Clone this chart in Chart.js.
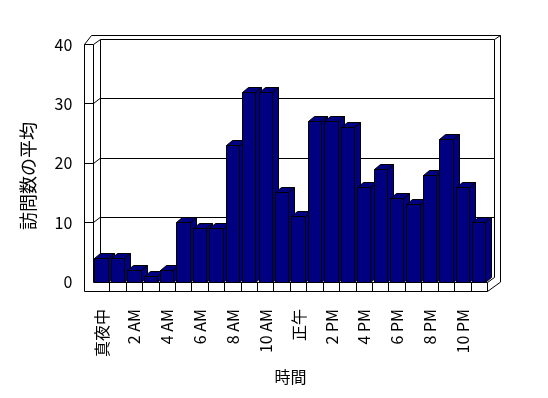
<!DOCTYPE html>
<html>
<head>
<meta charset="utf-8">
<script src="https://cdn.jsdelivr.net/npm/chart.js@4.4.1/dist/chart.umd.min.js"></script>
<style>
    html, body { margin: 0; padding: 0; background: #fff; }
    #chart { display: block; }
</style>
</head>
<body>
<canvas id="chart" width="548" height="398"></canvas>
<script>
// 時間ごとの訪問数の平均 (0時〜23時)
const hourLabels = ['真夜中', '', '2 AM', '', '4 AM', '', '6 AM', '', '8 AM', '', '10 AM', '',
    '正午', '', '2 PM', '', '4 PM', '', '6 PM', '', '8 PM', '', '10 PM', ''];
const visitAverages = [4, 4, 2, 1, 2, 10, 9, 9, 23, 32, 32, 15, 11, 27, 27, 26, 16, 19, 14, 13, 18, 24, 16, 10];
const valueTicks = [0, 10, 20, 30, 40];
const yTitle = '訪問数の平均';
const xTitle = '時間';

const FONT = '"Noto Sans CJK JP", "DejaVu Sans", sans-serif';
const BAR_COLOR = '#000080';

// walls / floor of the 3D box
const DX = 6.5, DY = -4.7;
const WALL = 9.3, FLOOR = 9;
// depth of each bar
const BX = 6, BY = -5;

const snap = v => Math.round(v - 0.5) + 0.5;

function line(ctx, pts) {
    ctx.beginPath();
    ctx.moveTo(pts[0][0], pts[0][1]);
    for (let i = 1; i < pts.length; i++) ctx.lineTo(pts[i][0], pts[i][1]);
    ctx.stroke();
}

function poly(ctx, pts) {
    ctx.beginPath();
    ctx.moveTo(pts[0][0], pts[0][1]);
    for (let i = 1; i < pts.length; i++) ctx.lineTo(pts[i][0], pts[i][1]);
    ctx.closePath();
    ctx.fill();
    ctx.stroke();
}

const boxPlugin = {
    id: 'box3d',
    beforeDatasetsDraw(chart) {
        const { ctx, chartArea: a, scales: { x, y } } = chart;
        const L = snap(a.left), R = snap(a.right);
        const T = snap(y.getPixelForValue(valueTicks[valueTicks.length - 1]));
        const B = snap(y.getPixelForValue(0));
        const LW = snap(a.left - WALL);
        const FB = snap(B + FLOOR);
        ctx.save();
        ctx.strokeStyle = '#000';
        ctx.lineWidth = 1;

        // back wall (outer + inner face)
        line(ctx, [[LW + 7, snap(T + 2 * DY)], [snap(R + 2 * DX), snap(T + 2 * DY)], [snap(R + 2 * DX), FB + 2 * DY]]);
        line(ctx, [[snap(L + DX), B + DY], [snap(L + DX), snap(T + DY)], [snap(R + DX), snap(T + DY)], [snap(R + DX), B + DY]]);
        line(ctx, [[snap(R + DX), snap(T + DY)], [snap(R + 2 * DX), snap(T + 2 * DY)]]);

        // gridlines with ticks on the left wall
        valueTicks.forEach(v => {
            if (v === 0 || v === valueTicks[valueTicks.length - 1]) return;
            const py = snap(y.getPixelForValue(v));
            line(ctx, [[LW, py], [L, py], [L + DX, snap(py + DY)], [snap(R + DX), snap(py + DY)]]);
        });

        // left wall
        line(ctx, [[LW, T], [LW, FB]]);
        line(ctx, [[L, T], [L, B]]);
        line(ctx, [[LW, T], [L, T], [snap(L + DX), snap(T + DY)]]);
        line(ctx, [[LW, T], [LW + 7, snap(T + 2 * DY)]]);

        // floor
        line(ctx, [[L, B], [R, B], [R + DX, B + DY]]);
        line(ctx, [[LW, FB], [R, FB], [snap(R + 2 * DX), FB + 2 * DY]]);
        line(ctx, [[R, B], [R, FB]]);
        for (let i = 1; i < hourLabels.length; i++) {
            const px = snap((x.getPixelForValue(i - 1) + x.getPixelForValue(i)) / 2);
            line(ctx, [[px, B], [px, FB]]);
        }
        ctx.restore();
    },
    afterDatasetsDraw(chart) {
        const { ctx } = chart;
        const meta = chart.getDatasetMeta(0);
        ctx.save();
        ctx.fillStyle = BAR_COLOR;
        ctx.strokeStyle = '#000';
        ctx.lineWidth = 1;
        meta.data.forEach(bar => {
            const p = bar.getProps(['x', 'y', 'base', 'width'], true);
            const l = snap(p.x - p.width / 2), r = snap(p.x + p.width / 2);
            const top = snap(p.y), base = snap(p.base);
            poly(ctx, [[r, top], [r + BX, top + BY], [r + BX, base + BY], [r, base]]);
            poly(ctx, [[l, top], [l + BX, top + BY], [r + BX, top + BY], [r, top]]);
            poly(ctx, [[l, top], [r, top], [r, base], [l, base]]);
        });
        ctx.restore();
    },
    afterDraw(chart) {
        // y軸タイトル (床と壁を含めた中央に置く)
        const { ctx } = chart;
        ctx.save();
        ctx.translate(28, 176);
        ctx.rotate(-Math.PI / 2);
        ctx.fillStyle = '#000';
        ctx.font = '18px ' + FONT;
        ctx.textAlign = 'center';
        ctx.textBaseline = 'middle';
        ctx.fillText(yTitle, 0, 0);
        ctx.restore();
    }
};

const ctx = document.getElementById('chart').getContext('2d');
new Chart(ctx, {
    type: 'bar',
    data: {
        labels: hourLabels,
        datasets: [{
            data: visitAverages,
            backgroundColor: BAR_COLOR,
            borderColor: '#000',
            borderWidth: 1,
            categoryPercentage: 1,
            barPercentage: 0.81
        }]
    },
    options: {
        responsive: false,
        animation: false,
        layout: { padding: { left: 0, right: 60.5, top: 44.5, bottom: 0 } },
        plugins: {
            legend: { display: false },
            tooltip: { enabled: false }
        },
        scales: {
            x: {
                grid: { display: false },
                border: { display: false },
                ticks: {
                    autoSkip: false,
                    minRotation: 90,
                    maxRotation: 90,
                    padding: 19,
                    color: '#000',
                    font: { family: FONT, size: 16 }
                },
                title: {
                    display: true,
                    text: xTitle,
                    color: '#000',
                    font: { family: FONT, size: 16 },
                    padding: { top: 0, bottom: 11 }
                },
                afterFit: scale => { scale.height = 116; }
            },
            y: {
                min: 0,
                max: 40,
                grid: { display: false, drawTicks: false },
                border: { display: false },
                afterBuildTicks: scale => { scale.ticks = valueTicks.map(v => ({ value: v })); },
                ticks: {
                    padding: 21,
                    color: '#000',
                    font: { family: FONT, size: 16 }
                },
                afterFit: scale => { scale.width = 93.3; }
            }
        }
    },
    plugins: [boxPlugin]
});
</script>
</body>
</html>
